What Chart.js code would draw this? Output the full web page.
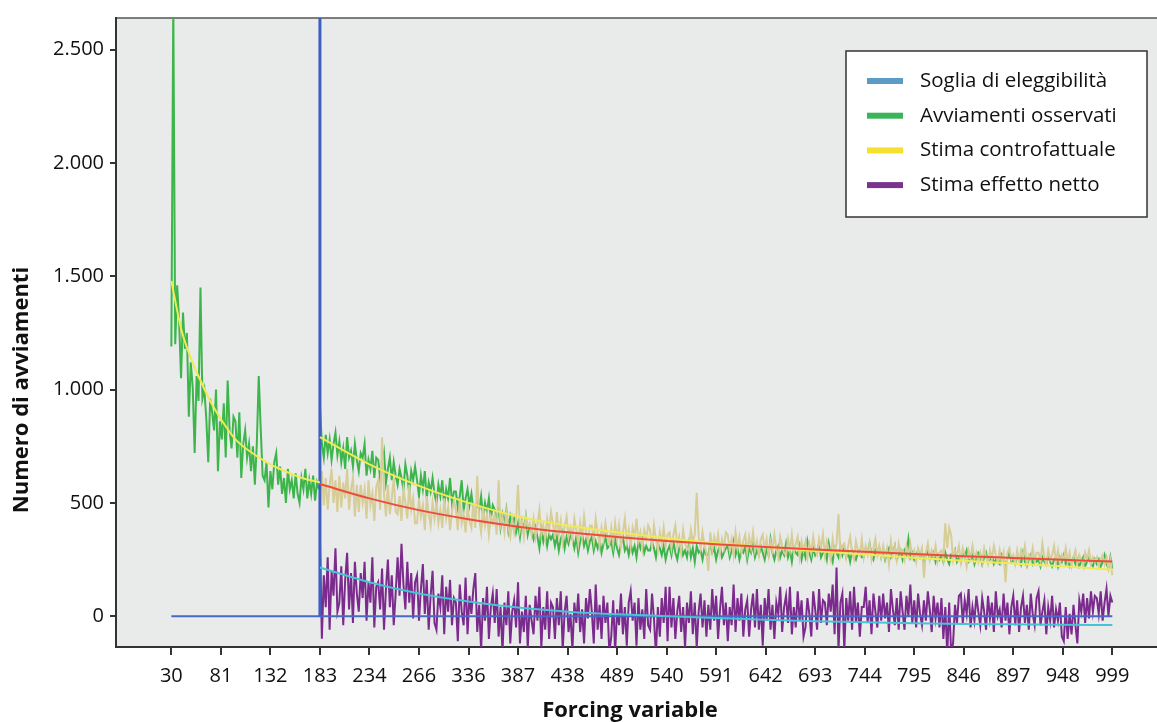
<!DOCTYPE html>
<html>
<head>
<meta charset="utf-8">
<script src="https://cdn.jsdelivr.net/npm/chart.js@4.4.1/dist/chart.umd.min.js"></script>
<style>
html, body { margin: 0; padding: 0; background: #fff; }
</style>
</head>
<body>
<canvas id="chart" width="1157" height="722"></canvas>
<script>
// tick positions and labels (labels as printed on the original, incl. "266")
const xTickValues = [30, 81, 132, 183, 234, 285, 336, 387, 438, 489, 540, 591, 642, 693, 744, 795, 846, 897, 948, 999];
const xTickLabels = ['30', '81', '132', '183', '234', '266', '336', '387', '438', '489', '540', '591', '642', '693', '744', '795', '846', '897', '948', '999'];
const yTickValues = [0, 500, 1000, 1500, 2000, 2500];
const yTickLabels = ['0', '500', '1.000', '1.500', '2.000', '2.500'];

const threshold = 183;
const xFirst = 30, xLast = 999;
const yTop = 2700;

// observed before the threshold, x = 30, 32, 34 ... 182
const preStart = 30, preStep = 2;
const observedPre = [
	1190, 2700, 1200, 1460, 1300, 1050, 1340, 1180, 1250, 880,
	1120, 1010, 720, 1060, 950, 1450, 960, 1000, 870, 680,
	960, 900, 820, 1000, 640, 860, 780, 940, 700, 1040,
	820, 740, 880, 860, 700, 900, 610, 760, 820, 700,
	760, 640, 750, 580, 760, 1060, 830, 620, 600, 680,
	480, 640, 560, 680, 720, 580, 660, 540, 610, 500,
	650, 560, 600, 520, 630, 540, 500, 610, 560, 650,
	520, 600, 540, 620, 510, 590, 560
];

// after the threshold, x = 183, 185, 187 ... 999 (one row = 20 units)
const postStart = 183, postStep = 2;
const observedPost = [
	930, 760, 700, 800, 720, 780, 690, 760, 810, 710,
	770, 680, 740, 650, 790, 700, 730, 660, 760, 690,
	640, 720, 700, 760, 620, 690, 650, 730, 610, 700,
	690, 610, 660, 720, 590, 650, 700, 600, 680, 620,
	580, 650, 610, 560, 670, 620, 540, 640, 600, 660,
	600, 530, 620, 560, 640, 520, 590, 550, 610, 540,
	500, 580, 530, 600, 490, 560, 520, 610, 500, 550,
	550, 480, 530, 600, 470, 520, 560, 490, 540, 470,
	450, 510, 470, 530, 440, 500, 460, 520, 430, 490,
	470, 420, 480, 390, 450, 410, 470, 380, 440, 400,
	430, 370, 410, 350, 420, 380, 440, 360, 400, 370,
	340, 390, 350, 300, 380, 330, 370, 310, 360, 340,
	360, 310, 350, 290, 340, 370, 300, 350, 320, 360,
	340, 300, 350, 280, 330, 360, 310, 340, 290, 330,
	350, 290, 330, 300, 340, 280, 320, 350, 300, 310,
	330, 280, 340, 300, 270, 320, 350, 290, 310, 270,
	320, 280, 310, 260, 330, 300, 340, 280, 310, 290,
	290, 330, 300, 260, 320, 300, 270, 310, 250, 290,
	310, 270, 330, 280, 250, 300, 320, 270, 290, 260,
	320, 260, 300, 240, 310, 280, 290, 250, 300, 270,
	270, 320, 280, 300, 250, 290, 310, 260, 280, 300,
	310, 260, 290, 330, 270, 300, 250, 290, 280, 310,
	250, 300, 280, 320, 260, 290, 270, 310, 280, 250,
	300, 270, 340, 280, 250, 290, 310, 260, 290, 270,
	320, 260, 290, 240, 300, 280, 270, 310, 250, 290,
	260, 330, 280, 250, 300, 270, 290, 320, 260, 280,
	290, 250, 320, 270, 240, 300, 280, 260, 310, 270,
	300, 260, 280, 240, 290, 270, 250, 280, 290, 260,
	260, 300, 280, 320, 270, 250, 290, 270, 300, 260,
	290, 250, 280, 300, 260, 280, 310, 250, 270, 290,
	250, 290, 270, 340, 260, 280, 250, 270, 290, 260,
	280, 240, 270, 290, 250, 260, 280, 240, 270, 250,
	270, 240, 280, 250, 230, 270, 260, 290, 240, 260,
	240, 280, 260, 290, 240, 250, 270, 230, 260, 280,
	270, 230, 260, 280, 240, 250, 270, 230, 250, 240,
	230, 270, 250, 220, 260, 280, 240, 250, 230, 260,
	260, 230, 280, 240, 220, 250, 270, 230, 250, 240,
	250, 220, 260, 240, 230, 270, 240, 220, 250, 260,
	220, 260, 240, 270, 230, 250, 220, 240, 260, 230,
	250, 220, 240, 260, 220, 240, 270, 230, 220, 250,
	230, 250, 220, 240, 270, 230, 210, 260, 210
];
const counterfactualPost = [
	560, 640, 490, 610, 470, 580, 650, 500, 600, 460,
	620, 480, 590, 520, 650, 470, 560, 610, 440, 580,
	460, 580, 500, 560, 430, 600, 490, 540, 420, 570,
	600, 470, 790, 540, 440, 580, 450, 520, 610, 460,
	450, 530, 420, 560, 500, 430, 580, 470, 520, 410,
	410, 520, 440, 490, 380, 530, 450, 400, 500, 430,
	500, 410, 470, 390, 520, 430, 480, 380, 460, 510,
	470, 380, 520, 410, 450, 370, 480, 420, 390, 500,
	390, 620, 430, 370, 480, 400, 450, 360, 440, 410,
	450, 360, 600, 400, 440, 370, 460, 390, 350, 430,
	370, 430, 580, 380, 420, 350, 440, 390, 410, 360,
	430, 350, 410, 470, 360, 400, 340, 430, 380, 460,
	410, 340, 460, 360, 420, 330, 400, 440, 350, 390,
	340, 430, 380, 320, 410, 350, 440, 370, 330, 400,
	400, 330, 430, 370, 310, 390, 340, 410, 350, 320,
	390, 320, 410, 340, 400, 310, 370, 430, 330, 380,
	310, 390, 350, 430, 330, 370, 300, 380, 340, 400,
	380, 300, 400, 340, 290, 370, 320, 390, 310, 360,
	370, 300, 360, 400, 310, 350, 280, 380, 320, 300,
	290, 380, 330, 360, 545, 350, 300, 370, 310, 280,
	200, 370, 290, 350, 310, 360, 280, 340, 300, 370,
	360, 290, 340, 270, 370, 300, 350, 280, 330, 360,
	280, 350, 300, 370, 290, 330, 270, 340, 360, 290,
	340, 270, 330, 290, 360, 300, 260, 350, 310, 280,
	270, 340, 290, 360, 280, 320, 350, 260, 330, 290,
	330, 260, 320, 280, 350, 290, 270, 340, 300, 360,
	270, 330, 290, 250, 340, 280, 320, 450, 270, 310,
	320, 260, 310, 350, 280, 250, 330, 290, 270, 340,
	260, 310, 270, 320, 250, 300, 340, 270, 310, 260,
	310, 260, 300, 230, 330, 270, 310, 250, 320, 280,
	290, 250, 310, 270, 320, 260, 290, 240, 300, 270,
	300, 170, 280, 320, 250, 290, 260, 310, 240, 280,
	290, 250, 410, 300, 390, 360, 250, 290, 270, 310,
	240, 300, 270, 220, 290, 260, 310, 250, 280, 240,
	280, 240, 300, 260, 230, 290, 250, 310, 270, 240,
	290, 240, 280, 150, 280, 300, 250, 270, 230, 290,
	240, 290, 260, 310, 230, 270, 250, 300, 240, 280,
	280, 240, 320, 260, 230, 290, 250, 270, 310, 240,
	290, 230, 270, 250, 300, 240, 280, 220, 260, 290,
	230, 270, 250, 220, 280, 250, 290, 230, 260, 240,
	260, 220, 250, 270, 230, 260, 210, 250, 180
];
const netEffect = [
	340, -100, 180, 40, 260, -60, 200, 90, 300, 20,
	60, 220, -40, 160, 280, 30, 190, -30, 240, 100,
	20, 190, 80, 240, -20, 150, 60, 260, -50, 130,
	150, 30, 210, -60, 120, 250, 40, 180, -40, 100,
	260, 90, 320, 140, 30, 240, 60, 190, -10, 150,
	180, -20, 120, 230, 10, 160, -60, 90, 200, -30,
	-60, 100, 40, 180, -80, 130, 20, 160, -40, 80,
	60, -110, 140, 20, -40, 170, -80, 90, 10, 120,
	190, -70, 50, -150, 80, -20, 130, -100, 40, 100,
	-30, 120, -90, 40, -160, 60, -40, 110, -120, 20,
	70, -50, 150, -120, 20, -70, 90, -140, 50, -20,
	-80, 90, -20, 130, -140, 40, -60, 110, -100, 60,
	40, -100, 80, -40, 110, -150, 20, 90, -70, 10,
	-150, 60, -30, 100, -70, 30, -120, 80, -10, 120,
	20, -120, 140, -60, 50, -100, 90, -30, 60, -160,
	-90, 70, -160, 30, -40, 100, -80, 40, -130, 60,
	110, -20, 60, -130, 80, -60, 30, -100, 120, -40,
	-60, 100, -10, -170, 40, -90, 80, -30, 130, -110,
	130, -50, 80, -100, 20, 90, -70, 40, -140, 60,
	-30, 110, -80, 60, -140, 20, 100, -50, 70, -90,
	50, -60, 120, -20, 90, -100, 30, 130, -40, 60,
	-110, 40, -40, 140, -70, 80, -20, 100, -90, 30,
	70, -90, 30, 100, -50, 120, -60, 50, -130, 80,
	-20, 120, -60, 50, -100, 60, 10, 130, -70, 40,
	90, -30, 130, -80, 40, -50, 110, -20, 70, -90,
	-50, 80, 10, -90, 110, 30, -60, 120, -30, 70,
	60, -40, 100, 20, 140, -80, 215, -150, 60, 100,
	-150, 80, -20, 110, -60, 130, -30, 60, -90, 40,
	40, 130, -30, 70, -80, 100, 20, -50, 90, -20,
	100, -10, 60, -70, 120, 30, -40, 80, -60, 110,
	20, -60, 90, 0, 140, -30, 70, -50, 100, 10,
	-40, 70, -20, 110, 30, -70, 90, -10, 60, -50,
	80, -100, 40, -170, 60, -160, -120, 50, -30, 90,
	100, -30, 70, 10, 120, -50, 40, -20, 90, 20,
	-40, 80, 20, -60, 90, -10, 60, -70, 110, 0,
	30, -50, 100, -20, 60, -80, 40, 90, -40, 70,
	-70, 40, 90, -30, 50, -60, 100, 10, -40, 80,
	110, -40, 20, 70, -80, 40, -20, 90, -50, 30,
	-20, 60, -90, -110, 40, -100, 10, -80, 50, -40,
	-120, 70, 20, 100, -30, 80, -10, 110, 20, 90,
	80, 10, 110, -20, 60, 120, 0, 90, 60
];

// fitted curves
const fitXsPre = [30, 40, 50, 60, 70, 81, 95, 110, 132, 150, 165, 183];
const fitObservedPre = [1480, 1270, 1140, 1040, 950, 870, 785, 730, 670, 635, 610, 590];
const fitXsPost = [183, 234, 285, 336, 387, 438, 489, 540, 591, 642, 693, 744, 795, 846, 897, 948, 999];
const fitObservedPost = [790, 670, 575, 500, 440, 400, 370, 345, 322, 305, 288, 272, 258, 245, 232, 220, 205];
const fitCounterfactual = [583, 520, 468, 428, 395, 370, 350, 332, 318, 305, 294, 284, 274, 265, 257, 249, 241];
const fitNetEffect = [215, 150, 100, 65, 38, 20, 8, 0, -8, -16, -22, -27, -31, -34, -36, -38, -39];

const legendLabels = ['Soglia di eleggibilità', 'Avviamenti osservati', 'Stima controfattuale', 'Stima effetto netto'];
const legendColors = ['#5b9bc6', '#3cb55a', '#f6df2e', '#7b338e'];

function series(start, step, values) {
	return values.map((v, i) => ({x: start + i * step, y: v}));
}
function pairs(xs, ys) {
	return xs.map((x, i) => ({x: x, y: ys[i]}));
}

const plotBackground = {
	id: 'plotBackground',
	beforeDraw(chart) {
		const {ctx, chartArea: {left, top, right, bottom}} = chart;
		ctx.save();
		ctx.fillStyle = '#e9eaea';
		ctx.fillRect(left, top, right - left, bottom - top);
		ctx.strokeStyle = '#555';
		ctx.lineWidth = 1.5;
		ctx.beginPath();
		ctx.moveTo(left, top);
		ctx.lineTo(right, top);
		ctx.stroke();
		ctx.restore();
	}
};

const boxLegend = {
	id: 'boxLegend',
	afterDraw(chart, args, opts) {
		const ctx = chart.ctx;
		ctx.save();
		ctx.fillStyle = '#fff';
		ctx.fillRect(opts.x, opts.y, opts.w, opts.h);
		ctx.strokeStyle = '#333';
		ctx.lineWidth = 1.5;
		ctx.strokeRect(opts.x, opts.y, opts.w, opts.h);
		ctx.font = '20.5px "Open Sans"';
		ctx.textBaseline = 'middle';
		legendLabels.forEach((label, i) => {
			const cy = opts.y + 30 + i * 34.7;
			ctx.fillStyle = legendColors[i];
			ctx.fillRect(opts.x + 21, cy - 3, 36, 6);
			ctx.fillStyle = '#111';
			ctx.fillText(label, opts.x + 74, cy);
		});
		ctx.restore();
	}
};

// axis titles are placed by hand: the y title is not centred on the plot area
const axisTitles = {
	id: 'axisTitles',
	afterDraw(chart, args, opts) {
		const ctx = chart.ctx;
		ctx.save();
		ctx.font = 'bold 22px "Open Sans"';
		ctx.fillStyle = '#111';
		ctx.textAlign = 'center';
		ctx.textBaseline = 'middle';
		ctx.fillText(opts.xText, opts.xPos[0], opts.xPos[1]);
		ctx.translate(opts.yPos[0], opts.yPos[1]);
		ctx.rotate(-Math.PI / 2);
		ctx.fillText(opts.yText, 0, 0);
		ctx.restore();
	}
};

const noisy = {pointRadius: 0, tension: 0, borderWidth: 2, fill: false};
const smooth = {pointRadius: 0, cubicInterpolationMode: 'monotone', borderWidth: 2, fill: false};

const ctx = document.getElementById('chart');
const chart = new Chart(ctx, {
	type: 'line',
	data: {
		datasets: [{
			label: 'Fit effetto netto',
			data: pairs(fitXsPost, fitNetEffect),
			borderColor: '#45c4d6',
			order: 1,
			...smooth
		}, {
			label: 'Fit controfattuale',
			data: pairs(fitXsPost, fitCounterfactual),
			borderColor: '#ee4b3b',
			order: 2,
			...smooth
		}, {
			label: 'Fit osservati (prima)',
			data: pairs(fitXsPre, fitObservedPre),
			borderColor: '#f0ea55',
			order: 3,
			...smooth
		}, {
			label: 'Fit osservati (dopo)',
			data: pairs(fitXsPost, fitObservedPost),
			borderColor: '#f0ea55',
			order: 3,
			...smooth
		}, {
			label: 'Soglia (verticale)',
			data: [{x: threshold, y: 0}, {x: threshold, y: yTop}],
			borderColor: '#3e5ec0',
			borderWidth: 3,
			pointRadius: 0,
			order: 4
		}, {
			label: 'Soglia (zero)',
			data: [{x: xFirst, y: 0}, {x: xLast, y: 0}],
			borderColor: '#4a68c4',
			borderWidth: 2,
			pointRadius: 0,
			order: 4
		}, {
			label: 'Stima controfattuale',
			data: series(postStart, postStep, counterfactualPost),
			borderColor: '#d6cd98',
			order: 5,
			...noisy
		}, {
			label: 'Avviamenti osservati (prima)',
			data: series(preStart, preStep, observedPre),
			borderColor: '#3db54b',
			order: 6,
			...noisy
		}, {
			label: 'Avviamenti osservati (dopo)',
			data: series(postStart, postStep, observedPost),
			borderColor: '#3db54b',
			order: 6,
			...noisy
		}, {
			label: 'Stima effetto netto',
			data: series(postStart, postStep, netEffect),
			borderColor: '#7b2a8d',
			order: 7,
			...noisy
		}]
	},
	options: {
		responsive: false,
		animation: false,
		layout: {
			padding: {top: 14, right: 0, left: 0, bottom: 0}
		},
		scales: {
			x: {
				type: 'linear',
				min: -27, max: 1045,
				afterBuildTicks: function (axis) {
					axis.ticks = xTickValues.map(v => ({value: v}));
				},
				afterFit: function (axis) { axis.height = 75; },
				ticks: {
					autoSkip: false,
					maxRotation: 0,
					padding: 9,
					color: '#111',
					font: {family: '"Open Sans"', size: 20},
					callback: function (value, index) { return xTickLabels[index]; }
				},
				grid: {
					drawOnChartArea: false,
					drawTicks: true,
					tickLength: 8,
					color: '#333',
					lineWidth: 2
				},
				border: {color: '#333', width: 2}
			},
			y: {
				type: 'linear',
				min: -136, max: 2640,
				afterBuildTicks: function (axis) {
					axis.ticks = yTickValues.map(v => ({value: v}));
				},
				afterFit: function (axis) { axis.width = 116; },
				ticks: {
					padding: 6,
					color: '#111',
					font: {family: '"Open Sans"', size: 20},
					callback: function (value, index) { return yTickLabels[index]; }
				},
				grid: {
					drawOnChartArea: false,
					drawTicks: true,
					tickLength: 6,
					color: '#333',
					lineWidth: 2
				},
				border: {color: '#333', width: 2}
			}
		},
		plugins: {
			legend: {display: false},
			tooltip: {enabled: false},
			boxLegend: {x: 846, y: 51, w: 301, h: 166},
			axisTitles: {
				xText: 'Forcing variable', xPos: [630, 711],
				yText: 'Numero di avviamenti', yPos: [22, 390]
			}
		}
	},
	plugins: [plotBackground, boxLegend, axisTitles]
});
</script>
</body>
</html>
